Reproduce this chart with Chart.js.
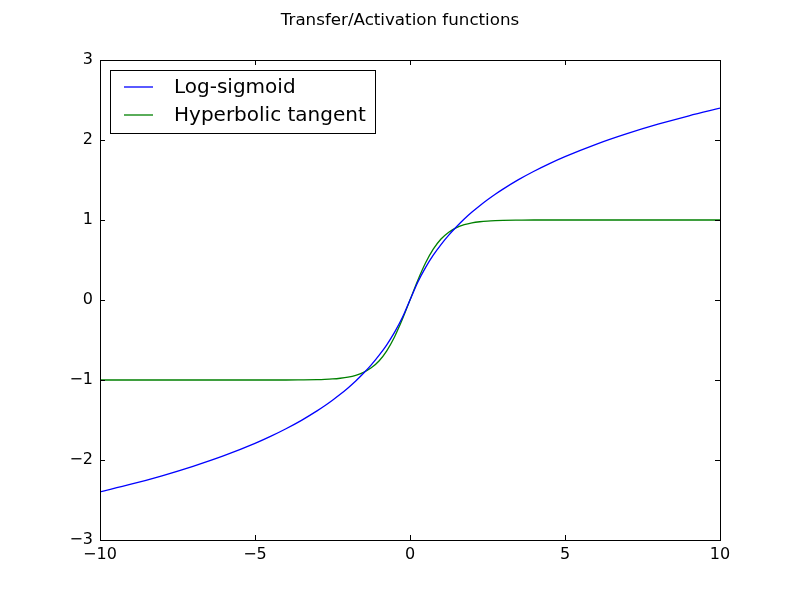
<!DOCTYPE html>
<html>
<head>
<meta charset="utf-8">
<script src="https://cdn.jsdelivr.net/npm/chart.js@4/dist/chart.umd.min.js"></script>
<style>
  html, body { margin: 0; padding: 0; background: #fff; }
  #wrap { width: 800px; height: 600px; }
</style>
</head>
<body>
<div id="wrap"><canvas id="grafica" width="800" height="600"></canvas></div>
<script>
/* ---------- datos ---------- */

const titulo = "Transfer/Activation functions";

const xValores = [-10, -9, -8, -7, -6, -5, -4.5, -4, -3.5, -3, -2.75, -2.5, -2.25, -2, -1.75, -1.5, -1.25, -1, -0.75, -0.5, -0.25,
    0, 0.25, 0.5, 0.75, 1, 1.25, 1.5, 1.75, 2, 2.25, 2.5, 2.75, 3, 3.5, 4, 4.5, 5, 6, 7, 8, 9, 10];

const logSigmoid = [-2.398, -2.303, -2.197, -2.079, -1.946, -1.792, -1.705, -1.609, -1.504, -1.386, -1.322, -1.253, -1.179, -1.099, -1.012, -0.916, -0.811, -0.693, -0.560, -0.405, -0.223,
    0, 0.223, 0.405, 0.560, 0.693, 0.811, 0.916, 1.012, 1.099, 1.179, 1.253, 1.322, 1.386, 1.504, 1.609, 1.705, 1.792, 1.946, 2.079, 2.197, 2.303, 2.398];

const tangenteHiperbolica = [-1, -1, -1, -1, -1, -1, -1, -1, -0.998, -0.995, -0.992, -0.987, -0.978, -0.964, -0.941, -0.905, -0.848, -0.762, -0.635, -0.462, -0.245,
    0, 0.245, 0.462, 0.635, 0.762, 0.848, 0.905, 0.941, 0.964, 0.978, 0.987, 0.992, 0.995, 0.998, 1, 1, 1, 1, 1, 1, 1, 1];

const nombresSeries = ["Log-sigmoid", "Hyperbolic tangent"];
const coloresSeries = ["#0000ff", "#008000"];

const xTicks = [-10, -5, 0, 5, 10];
const yTicks = [-3, -2, -1, 0, 1, 2, 3];

/* ---------- helpers ---------- */

const FUENTE = "'DejaVu Sans', sans-serif";

function puntos(ys){
    return xValores.map((x, i) => ({ x: x, y: ys[i] }));
}

function menos(v){
    return String(v).replace("-", "\u2212");
}

/* ---------- plugin: marco, ticks, titulo, leyenda ---------- */

const decoracion = {
    id: "decoracion",
    afterDraw(chart){
        const ctx = chart.ctx;
        const a = chart.chartArea;
        const sx = chart.scales.x;
        const sy = chart.scales.y;
        const largo = 5;

        ctx.save();

        // marco
        ctx.strokeStyle = "#000";
        ctx.lineWidth = 1;
        ctx.strokeRect(Math.round(a.left) + 0.5, Math.round(a.top) + 0.5,
            Math.round(a.right - a.left), Math.round(a.bottom - a.top));

        // ticks hacia dentro
        ctx.beginPath();
        xTicks.forEach(v => {
            const px = Math.round(sx.getPixelForValue(v)) + 0.5;
            ctx.moveTo(px, a.bottom); ctx.lineTo(px, a.bottom - largo);
            ctx.moveTo(px, a.top); ctx.lineTo(px, a.top + largo);
        });
        yTicks.forEach(v => {
            const py = Math.round(sy.getPixelForValue(v)) + 0.5;
            ctx.moveTo(a.left, py); ctx.lineTo(a.left + largo, py);
            ctx.moveTo(a.right, py); ctx.lineTo(a.right - largo, py);
        });
        ctx.stroke();

        // titulo
        ctx.fillStyle = "#000";
        ctx.font = "16.7px " + FUENTE;
        ctx.textAlign = "center";
        ctx.textBaseline = "middle";
        ctx.fillText(titulo, 400, 21);

        // leyenda
        const lx = 110.5, ly = 70.5, lw = 265, lh = 63;
        ctx.fillStyle = "#fff";
        ctx.fillRect(lx, ly, lw, lh);
        ctx.strokeStyle = "#000";
        ctx.strokeRect(lx, ly, lw, lh);

        ctx.font = "20px " + FUENTE;
        ctx.textAlign = "left";
        nombresSeries.forEach((nombre, i) => {
            const y = 87 + i * 28;
            ctx.strokeStyle = coloresSeries[i];
            ctx.lineWidth = 1.3;
            ctx.beginPath();
            ctx.moveTo(124, y);
            ctx.lineTo(153, y);
            ctx.stroke();
            ctx.fillStyle = "#000";
            ctx.fillText(nombre, 174, y + 1);
        });

        ctx.restore();
    }
};

/* ---------- grafica ---------- */

const grafica = new Chart(
    document.getElementById("grafica"),
    {
        type: "line",
        data: {
            datasets: [
                {
                    label: nombresSeries[0],
                    data: puntos(logSigmoid),
                    borderColor: coloresSeries[0],
                    borderWidth: 1.3,
                    pointRadius: 0,
                    cubicInterpolationMode: "monotone",
                    fill: false
                },
                {
                    label: nombresSeries[1],
                    data: puntos(tangenteHiperbolica),
                    borderColor: coloresSeries[1],
                    borderWidth: 1.3,
                    pointRadius: 0,
                    cubicInterpolationMode: "monotone",
                    fill: false
                }
            ]
        },
        options: {
            responsive: false,
            animation: false,
            layout: { padding: { top: 60, right: 80, left: 0, bottom: 0 } },
            plugins: {
                legend: { display: false },
                title: { display: false },
                tooltip: { enabled: false }
            },
            scales: {
                x: {
                    type: "linear",
                    min: -10,
                    max: 10,
                    afterFit(s){ s.height = 60; },
                    afterBuildTicks(s){ s.ticks = xTicks.map(v => ({ value: v })); },
                    grid: { display: false, drawTicks: false },
                    border: { display: true, color: "#000" },
                    ticks: {
                        color: "#000",
                        padding: 5,
                        maxRotation: 0,
                        font: { family: FUENTE, size: 16 },
                        callback: v => menos(v)
                    }
                },
                y: {
                    type: "linear",
                    min: -3,
                    max: 3,
                    afterFit(s){ s.width = 100; },
                    afterBuildTicks(s){ s.ticks = yTicks.map(v => ({ value: v })); },
                    grid: { display: false, drawTicks: false },
                    border: { display: true, color: "#000" },
                    ticks: {
                        color: "#000",
                        padding: 7,
                        font: { family: FUENTE, size: 16 },
                        callback: v => menos(v)
                    }
                }
            }
        },
        plugins: [decoracion]
    }
);
</script>
</body>
</html>
